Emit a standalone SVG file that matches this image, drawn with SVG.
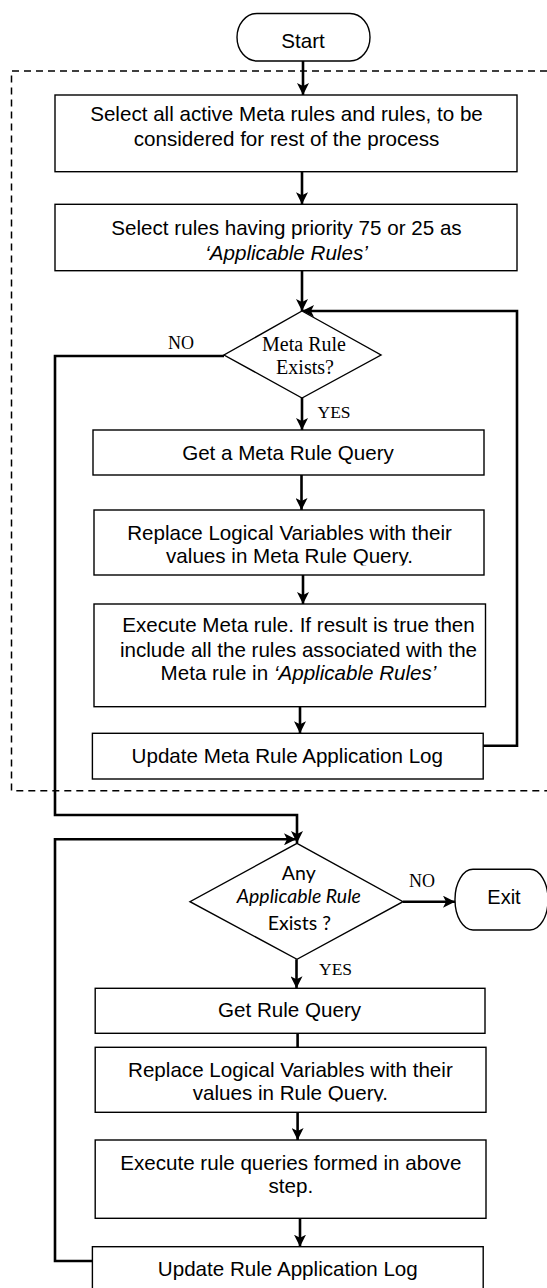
<svg xmlns="http://www.w3.org/2000/svg" width="547" height="1288" viewBox="0 0 547 1288">
<style>
.box{fill:#fff;stroke:#000;stroke-width:1.4}
.term{fill:#fff;stroke:#000;stroke-width:1.4}
.dia{fill:#fff;stroke:#000;stroke-width:1.4}
.t{font-family:"Liberation Sans",Arial,sans-serif;font-size:20.6px;fill:#000;text-anchor:middle}
.s{font-family:"Liberation Serif","Times New Roman",serif;fill:#000}
.c{font-family:Lato,"Open Sans",sans-serif;font-size:19.5px;fill:#000;text-anchor:middle}
.i{font-style:italic}
.con{fill:none;stroke:#000;stroke-width:2.6}
.dash{fill:none;stroke:#000;stroke-width:1.5;stroke-dasharray:7 5}
</style>
<defs>
<marker id="ah" viewBox="0 0 12 12" refX="12" refY="6" markerWidth="12" markerHeight="12" markerUnits="userSpaceOnUse" orient="auto">
<path d="M0,0 L12,6 L0,12 L3,6 z" fill="#000"/>
</marker>
<clipPath id="clip4"><rect x="94" y="510" width="390" height="55.5"/></clipPath>
<clipPath id="clip8"><rect x="95" y="1047" width="391" height="54.5"/></clipPath>
</defs>
<rect width="547" height="1288" fill="#fff"/>
<path class="dash" d="M547,71 H11.5 V790.7 H547"/>
<g id="connectors">
<path class="con" d="M303,61 V95" marker-end="url(#ah)"/>
<path class="con" d="M302,171.7 V204.3" marker-end="url(#ah)"/>
<path class="con" d="M302,270.7 V311" marker-end="url(#ah)"/>
<path class="con" d="M483,745.7 H517 V311 H302" marker-end="url(#ah)"/>
<path class="con" d="M224,356 H55 V815 H297 V843" marker-end="url(#ah)"/>
<path class="con" d="M302,398 V430" marker-end="url(#ah)"/>
<path class="con" d="M301.5,475 V510" marker-end="url(#ah)"/>
<path class="con" d="M303,575 V604" marker-end="url(#ah)"/>
<path class="con" d="M300,706.7 V733.3" marker-end="url(#ah)"/>
<path class="con" d="M92.4,1261 H55 V839.3 H296" marker-end="url(#ah)"/>
<path class="con" d="M403,901.7 H455" marker-end="url(#ah)"/>
<path class="con" d="M296.5,959.3 V988.3" marker-end="url(#ah)"/>
<path class="con" d="M297.6,1033.3 V1047.3"/>
<path class="con" d="M297.6,1112.3 V1140" marker-end="url(#ah)"/>
<path class="con" d="M300,1218.3 V1246.7" marker-end="url(#ah)"/>
<text class="s" x="168" y="349" font-size="18">NO</text>
<text class="s" x="317.5" y="418.3" font-size="17.5">YES</text>
<text class="s" x="409" y="887.3" font-size="18">NO</text>
<text class="s" x="319" y="975" font-size="17.5">YES</text>
</g>
<g id="start">
<rect class="term" x="237" y="13.5" width="133" height="47.5" rx="20" ry="23.75"/>
<text class="t" x="303" y="48">Start</text>
</g>
<g id="select-all">
<rect class="box" x="55" y="95" width="462" height="76.7"/>
<text class="t" x="286.5" y="121">Select all active Meta rules and rules, to be</text>
<text class="t" x="286.5" y="146">considered for rest of the process</text>
</g>
<g id="select-priority">
<rect class="box" x="55" y="204.3" width="462" height="66.4"/>
<text class="t" x="286.5" y="235">Select rules having priority 75 or 25 as</text>
<text class="t i" x="286.5" y="259.5">‘Applicable Rules’</text>
</g>
<g id="meta-exists">
<polygon class="dia" points="302,311 381,355 302,398 224,355"/>
<text class="s" x="304" y="350.7" font-size="20" text-anchor="middle">Meta Rule</text>
<text class="s" x="305" y="374.3" font-size="20" text-anchor="middle">Exists?</text>
</g>
<g id="get-meta">
<rect class="box" x="93" y="430" width="391" height="45"/>
<text class="t" x="288" y="460">Get a Meta Rule Query</text>
</g>
<g id="replace-meta">
<rect class="box" x="94" y="510" width="390" height="65"/>
<g clip-path="url(#clip4)">
<text class="t" x="289.5" y="540">Replace Logical Variables with their</text>
<text class="t" x="289.5" y="563.3">values in Meta Rule Query.</text>
</g>
</g>
<g id="execute-meta">
<rect class="box" x="94" y="604" width="391.5" height="102.7"/>
<text class="t" x="298.5" y="631.7">Execute Meta rule. If result is true then</text>
<text class="t" x="298.5" y="656.7">include all the rules associated with the</text>
<text class="t" x="298.5" y="680">Meta rule in <tspan class="i">‘Applicable Rules’</tspan></text>
</g>
<g id="update-meta">
<rect class="box" x="92.4" y="733.3" width="390.8" height="45.7"/>
<text class="t" x="287.3" y="763.3">Update Meta Rule Application Log</text>
</g>
<g id="any-rule">
<polygon class="dia" points="297,843.3 403,901.7 297,959.3 190,901.7"/>
<text class="c" x="298.8" y="880">Any</text>
<text class="c i" x="298.8" y="903.3">Applicable Rule</text>
<text class="c" x="299.3" y="930">Exists ?</text>
</g>
<g id="exit">
<rect class="term" x="455" y="869.3" width="93" height="60.7" rx="18" ry="30"/>
<text class="t" x="504" y="904" style="font-size:20px">Exit</text>
</g>
<g id="get-rule">
<rect class="box" x="95.2" y="988.3" width="389.8" height="45"/>
<text class="t" x="289.6" y="1016.7">Get Rule Query</text>
</g>
<g id="replace-rule">
<rect class="box" x="95.2" y="1047.3" width="390.8" height="65"/>
<g clip-path="url(#clip8)">
<text class="t" x="290.4" y="1076.7">Replace Logical Variables with their</text>
<text class="t" x="290.4" y="1100">values in Rule Query.</text>
</g>
</g>
<g id="execute-rule">
<rect class="box" x="95.2" y="1140" width="390.8" height="78.3"/>
<text class="t" x="290.8" y="1170">Execute rule queries formed in above</text>
<text class="t" x="290.8" y="1193.3">step.</text>
</g>
<g id="update-rule">
<rect class="box" x="92.4" y="1246.7" width="390.8" height="43"/>
<text class="t" x="287.8" y="1276">Update Rule Application Log</text>
</g>
</svg>
